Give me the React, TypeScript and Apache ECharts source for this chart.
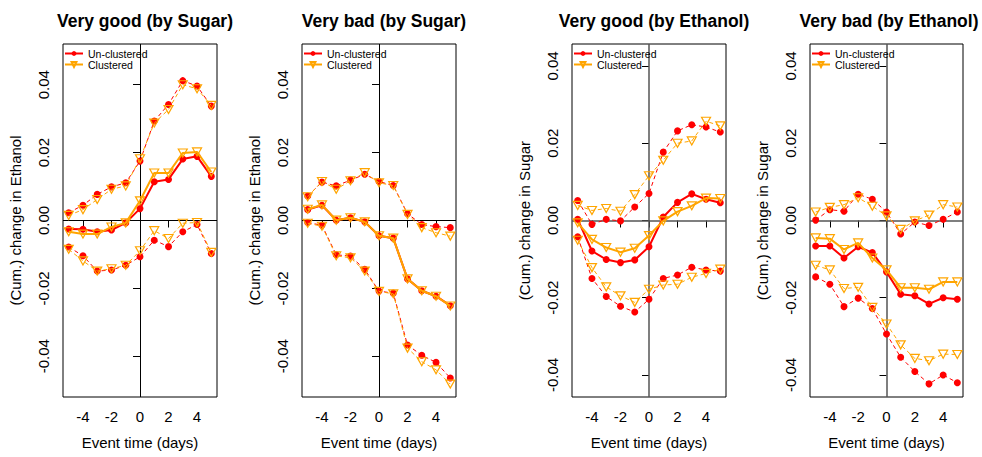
import React, { useEffect, useRef } from "react";
import * as echarts from "echarts";

const eventTimes = [-5, -4, -3, -2, -1, 0, 1, 2, 3, 4, 5];
const xTicks = [-4, -2, 0, 2, 4];
const yTicks = [-0.04, -0.02, 0, 0.02, 0.04];

const titles = ["Very good (by Sugar)", "Very bad (by Sugar)", "Very good (by Ethanol)", "Very bad (by Ethanol)"];
const yNames = ["(Cum.) change in Ethanol", "(Cum.) change in Ethanol", "(Cum.) change in Sugar", "(Cum.) change in Sugar"];
const xName = "Event time (days)";
const legendNames = ["Un-clustered", "Clustered"];

// Panel 1: Very good (by Sugar)
const goodSugarUnclEst = [-0.0025, -0.0026, -0.0033, -0.0028, -0.0007, 0.0035, 0.0114, 0.0121, 0.0181, 0.0189, 0.013];
const goodSugarUnclHi = [0.0023, 0.0045, 0.0077, 0.0099, 0.0111, 0.0175, 0.0293, 0.0342, 0.0412, 0.0396, 0.0337];
const goodSugarUnclLo = [-0.0078, -0.0104, -0.0149, -0.0146, -0.0132, -0.0107, -0.0058, -0.0077, -0.0033, -0.0012, -0.0097];
const goodSugarClEst = [-0.0033, -0.004, -0.004, -0.0019, -0.0007, 0.0058, 0.014, 0.014, 0.0199, 0.0202, 0.0143];
const goodSugarClHi = [0.0015, 0.0032, 0.0062, 0.0092, 0.0102, 0.0182, 0.0287, 0.0327, 0.04, 0.0388, 0.0339];
const goodSugarClLo = [-0.0085, -0.0119, -0.0149, -0.0142, -0.0132, -0.0089, -0.003, -0.0053, -0.0008, -0.0006, -0.0094];

// Panel 2: Very bad (by Sugar)
const badSugarUnclEst = [0.0032, 0.0045, 0.0001, 0.0008, -0.0004, -0.0045, -0.0052, -0.0172, -0.0207, -0.0223, -0.0251];
const badSugarUnclHi = [0.0072, 0.0113, 0.0102, 0.0119, 0.0136, 0.0115, 0.0103, 0.002, -0.0012, -0.0018, -0.0021];
const badSugarUnclLo = [-0.0006, -0.0014, -0.0101, -0.0105, -0.0144, -0.0208, -0.0214, -0.0367, -0.0397, -0.0418, -0.0464];
const badSugarClEst = [0.0033, 0.0046, 0.0001, 0.0008, -0.0004, -0.0045, -0.0052, -0.0172, -0.0207, -0.0223, -0.0252];
const badSugarClHi = [0.007, 0.0115, 0.0092, 0.0117, 0.0141, 0.0111, 0.0103, 0.0018, -0.0021, -0.0036, -0.0046];
const badSugarClLo = [-0.0008, -0.0017, -0.0104, -0.011, -0.0149, -0.0209, -0.0216, -0.0376, -0.0416, -0.044, -0.0482];

// Panel 3: Very good (by Ethanol)
const goodEthUnclEst = [0.0003, -0.0079, -0.0101, -0.0109, -0.0102, -0.0068, 0.0009, 0.0047, 0.0069, 0.0055, 0.0046];
const goodEthUnclHi = [0.0052, -0.001, 0.0003, -0.0001, 0.0035, 0.007, 0.0177, 0.0232, 0.0248, 0.0242, 0.0229];
const goodEthUnclLo = [-0.0042, -0.015, -0.0197, -0.0222, -0.0237, -0.0204, -0.015, -0.0141, -0.0121, -0.0128, -0.0131];
const goodEthClEst = [-0.0006, -0.0049, -0.007, -0.0082, -0.0072, -0.0039, -0.0001, 0.0023, 0.0038, 0.0058, 0.0057];
const goodEthClHi = [0.0039, 0.0026, 0.0031, 0.0024, 0.0067, 0.0116, 0.0156, 0.02, 0.0206, 0.0257, 0.0245];
const goodEthClLo = [-0.0051, -0.0122, -0.0172, -0.0195, -0.0212, -0.0178, -0.0167, -0.0165, -0.0147, -0.0137, -0.0126];

// Panel 4: Very bad (by Ethanol)
const badEthUnclEst = [-0.0066, -0.0066, -0.0097, -0.0068, -0.0083, -0.0133, -0.0191, -0.0195, -0.0216, -0.02, -0.0204];
const badEthUnclHi = [0.0001, 0.0028, 0.0024, 0.0068, 0.0055, 0.0022, -0.0035, -0.0004, -0.0013, 0.0003, 0.0022];
const badEthUnclLo = [-0.0146, -0.0165, -0.0223, -0.0201, -0.0228, -0.0294, -0.0354, -0.0391, -0.0423, -0.04, -0.042];
const badEthClEst = [-0.0045, -0.0047, -0.0075, -0.0058, -0.0097, -0.0128, -0.0174, -0.0174, -0.0178, -0.0159, -0.0159];
const badEthClHi = [0.0022, 0.0034, 0.0041, 0.0059, 0.0037, 0.0012, -0.0023, -0.0001, 0.0014, 0.0041, 0.0035];
const badEthClLo = [-0.0116, -0.0128, -0.0176, -0.0173, -0.0225, -0.0268, -0.0322, -0.0357, -0.0363, -0.0346, -0.0347];

const panelData = [
  [goodSugarUnclEst, goodSugarUnclHi, goodSugarUnclLo, goodSugarClEst, goodSugarClHi, goodSugarClLo],
  [badSugarUnclEst, badSugarUnclHi, badSugarUnclLo, badSugarClEst, badSugarClHi, badSugarClLo],
  [goodEthUnclEst, goodEthUnclHi, goodEthUnclLo, goodEthClEst, goodEthClHi, goodEthClLo],
  [badEthUnclEst, badEthUnclHi, badEthUnclLo, badEthClEst, badEthClHi, badEthClLo],
];

const FONT = "'Liberation Sans', Arial, Helvetica, sans-serif";
const RED = "#ff0000";
const ORANGE = "#ffa500";
const TRI = "path://M0,0L10,0L5,9Z";

const grids = [
  { left: 63, top: 44, width: 154, height: 353 },
  { left: 302, top: 44, width: 154, height: 353 },
  { left: 572, top: 44, width: 154, height: 353 },
  { left: 810, top: 44, width: 153, height: 353 },
];
const titleCenters = [140, 379, 649, 884];
const yLims = [0.052, 0.052, 0.0457, 0.0457];
const refColors = ["#000", "#000", "#555", "#555"];
const refWidths = [1, 1, 1.5, 1.5];

function buildOption() {
  const series: any[] = [];
  panelData.forEach((arrs, p) => {
    const kinds = [
      { arr: arrs[0], name: "Un-clustered", color: RED, est: true, tri: false },
      { arr: arrs[1], name: "Un-clustered CI hi", color: RED, est: false, tri: false },
      { arr: arrs[2], name: "Un-clustered CI lo", color: RED, est: false, tri: false },
      { arr: arrs[3], name: "Clustered", color: ORANGE, est: true, tri: true },
      { arr: arrs[4], name: "Clustered CI hi", color: ORANGE, est: false, tri: true },
      { arr: arrs[5], name: "Clustered CI lo", color: ORANGE, est: false, tri: true },
    ];
    kinds.forEach((k, i) => {
      const s: any = {
        type: "line",
        name: k.name,
        xAxisIndex: p,
        yAxisIndex: p,
        data: eventTimes.map((t, j) => [t, k.arr[j]]),
        symbol: k.tri ? TRI : "circle",
        symbolSize: k.tri ? [9, 8] : 7,
        showSymbol: true,
        lineStyle: {
          color: k.color,
          width: k.est ? 2 : 1,
          type: k.est ? "solid" : [4, 3],
        },
        itemStyle: k.tri
          ? { color: "rgba(255,255,255,0)", borderColor: k.color, borderWidth: 1.2 }
          : { color: k.color, borderWidth: 0 },
        emphasis: { disabled: true },
        silent: true,
        z: k.tri ? 3 : 2,
      };
      if (i === 0) {
        s.markLine = {
          silent: true,
          symbol: "none",
          label: { show: false },
          lineStyle: { color: refColors[p], width: refWidths[p], type: "solid" },
          data: [{ xAxis: 0 }, { yAxis: 0 }],
          z: 1,
        };
      }
      series.push(s);
    });
  });

  return {
    animation: false,
    backgroundColor: "#fff",
    title: grids.map((g, p) => ({
      text: titles[p],
      left: titleCenters[p],
      textAlign: "center",
      top: 7,
      textStyle: { fontFamily: FONT, fontSize: 17.5, fontWeight: "bold", color: "#000" },
    })),
    legend: grids.map((g) => ({
      left: g.left + 1,
      top: 48,
      orient: "vertical",
      itemGap: 0,
      itemWidth: 18,
      itemHeight: 6,
      padding: 0,
      selectedMode: false,
      data: legendNames,
      textStyle: { fontFamily: FONT, fontSize: 10.5, lineHeight: 10, color: "#000" },
    })),
    grid: grids.map((g) => ({
      ...g,
      show: true,
      borderColor: "#000",
      borderWidth: 1,
      backgroundColor: "transparent",
      containLabel: false,
    })),
    xAxis: grids.map((g, p) => ({
      type: "value",
      gridIndex: p,
      min: -5.4,
      max: 5.4,
      name: xName,
      nameLocation: "middle",
      nameGap: 38,
      nameTextStyle: { fontFamily: FONT, fontSize: 15, color: "#000" },
      axisLine: { show: false },
      splitLine: { show: false },
      axisTick: { show: true, customValues: xTicks, length: 7, lineStyle: { color: "#000" } },
      axisLabel: {
        customValues: xTicks,
        fontFamily: FONT,
        fontSize: 15,
        color: "#000",
        margin: 12,
        formatter: (v: number) => String(v),
      },
    })),
    yAxis: grids.map((g, p) => ({
      type: "value",
      gridIndex: p,
      min: -yLims[p],
      max: yLims[p],
      name: yNames[p],
      nameLocation: "middle",
      nameGap: 40,
      nameTextStyle: { fontFamily: FONT, fontSize: 15, color: "#000" },
      axisLine: { show: false },
      splitLine: { show: false },
      axisTick: { show: true, customValues: yTicks, length: 7, lineStyle: { color: "#000" } },
      axisLabel: {
        customValues: yTicks,
        rotate: 90,
        fontFamily: FONT,
        fontSize: 15,
        color: "#000",
        margin: 12,
        formatter: (v: number) => v.toFixed(2),
      },
    })),
    series,
  };
}

export default function App() {
  const ref = useRef<HTMLDivElement>(null);
  useEffect(() => {
    document.body.style.margin = "0";
    if (!ref.current) return;
    const chart = echarts.init(ref.current, null, { renderer: "svg" });
    chart.setOption(buildOption() as any);
    return () => chart.dispose();
  }, []);
  return <div ref={ref} style={{ width: 982, height: 457, position: "absolute", left: 0, top: 0 }} />;
}
